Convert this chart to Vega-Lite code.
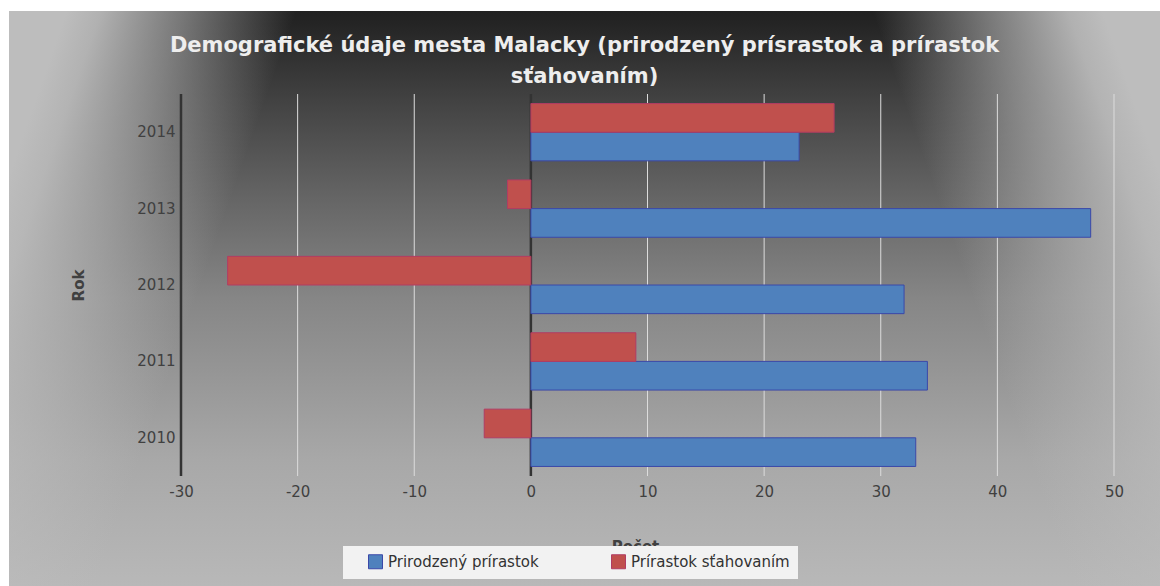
{
  "$schema": "https://vega.github.io/schema/vega-lite/v6.json",
  "width": 1151,
  "height": 575,
  "autosize": {"type": "none"},
  "padding": {"left": 9, "top": 11, "right": 0, "bottom": 0},
  "background": "#ffffff",
  "view": {
    "stroke": null,
    "fill": {
      "gradient": "linear",
      "x1": 0, "y1": 0, "x2": 0, "y2": 1,
      "stops": [
        {"offset": 0, "color": "#212121"},
        {"offset": 0.02, "color": "#242424"},
        {"offset": 0.155, "color": "#424242"},
        {"offset": 0.33, "color": "#666666"},
        {"offset": 0.5, "color": "#868686"},
        {"offset": 0.78, "color": "#a8a8a8"},
        {"offset": 1, "color": "#b8b8b8"}
      ]
    }
  },
  "title": {
    "text": ["Demografické údaje mesta Malacky (prirodzený prísrastok a prírastok", "sťahovaním)"],
    "anchor": "middle",
    "frame": "group",
    "orient": "top",
    "offset": -76,
    "font": "DejaVu Sans",
    "fontSize": 21,
    "fontWeight": "bold",
    "color": "#eeeeee",
    "lineHeight": 31
  },
  "resolve": {"scale": {"y": "independent"}, "axis": {"y": "independent"}},
  "layer": [
    {
      "data": {"values": [{"panel": "right"}]},
      "mark": {
        "type": "rect",
        "fill": {
          "gradient": "linear",
          "x1": 0.75, "y1": 0, "x2": 0.944, "y2": -0.034,
          "stops": [
            {"offset": 0, "color": "rgba(189,189,189,0)"},
            {"offset": 0.49, "color": "rgba(189,189,189,0.55)"},
            {"offset": 0.85, "color": "rgba(189,189,189,0.92)"},
            {"offset": 1, "color": "rgba(189,189,189,1)"}
          ]
        }
      },
      "encoding": {}
    },
    {
      "data": {"values": [{"panel": "left"}]},
      "mark": {
        "type": "rect",
        "fill": {
          "gradient": "linear",
          "x1": 0.25, "y1": 0, "x2": 0.056, "y2": -0.034,
          "stops": [
            {"offset": 0, "color": "rgba(189,189,189,0)"},
            {"offset": 0.49, "color": "rgba(189,189,189,0.55)"},
            {"offset": 0.85, "color": "rgba(189,189,189,0.92)"},
            {"offset": 1, "color": "rgba(189,189,189,1)"}
          ]
        }
      },
      "encoding": {}
    },
    {
      "data": {"values": [{"value": -20}, {"value": -10}, {"value": 10}, {"value": 20}, {"value": 30}, {"value": 40}, {"value": 50}]},
      "mark": {"type": "rule", "color": "#dcdcdc", "strokeWidth": 1},
      "encoding": {
        "x": {"field": "value", "type": "quantitative", "title": "Počet", "scale": {"domain": [-30, 50], "range": [172, 1105], "nice": false, "zero": false}},
        "y": {"datum": 0, "type": "quantitative", "scale": {"domain": [0, 1], "range": [83, 465]}, "axis": null},
        "y2": {"datum": 1}
      }
    },
    {
      "data": {"values": [{"value": -30}, {"value": 0}]},
      "mark": {"type": "rule", "color": "#333333", "strokeWidth": 2.5},
      "encoding": {
        "x": {"field": "value", "type": "quantitative", "title": "Počet", "scale": {"domain": [-30, 50], "range": [172, 1105], "nice": false, "zero": false}},
        "y": {"datum": 0, "type": "quantitative", "scale": {"domain": [0, 1], "range": [83, 465]}, "axis": null},
        "y2": {"datum": 1}
      }
    },
    {
      "data": {
        "values": [
          {"year": "2014", "series": "Prirodzený prírastok", "value": 23},
          {"year": "2014", "series": "Prírastok sťahovaním", "value": 26},
          {"year": "2013", "series": "Prirodzený prírastok", "value": 48},
          {"year": "2013", "series": "Prírastok sťahovaním", "value": -2},
          {"year": "2012", "series": "Prirodzený prírastok", "value": 32},
          {"year": "2012", "series": "Prírastok sťahovaním", "value": -26},
          {"year": "2011", "series": "Prirodzený prírastok", "value": 34},
          {"year": "2011", "series": "Prírastok sťahovaním", "value": 9},
          {"year": "2010", "series": "Prirodzený prírastok", "value": 33},
          {"year": "2010", "series": "Prírastok sťahovaním", "value": -4}
        ]
      },
      "mark": {"type": "bar", "strokeWidth": 1},
      "encoding": {
        "y": {
          "field": "year",
          "type": "ordinal",
          "sort": "descending",
          "title": "Rok",
          "scale": {"range": [83, 465], "paddingInner": 0.25, "paddingOuter": 0.125},
          "axis": {
            "offset": -172,
            "zindex": 1,
            "domain": false,
            "ticks": false,
            "labelPadding": 6,
            "labelFont": "DejaVu Sans",
            "labelFontSize": 15,
            "labelColor": "#404040",
            "titleFont": "DejaVu Sans",
            "titleFontSize": 15,
            "titleFontWeight": "bold",
            "titleColor": "#404040",
            "titlePadding": 50
          }
        },
        "yOffset": {
          "field": "series",
          "scale": {"domain": ["Prírastok sťahovaním", "Prirodzený prírastok"], "paddingInner": 0, "paddingOuter": 0}
        },
        "x": {
          "field": "value",
          "type": "quantitative",
          "title": "Počet",
          "scale": {"domain": [-30, 50], "range": [172, 1105], "nice": false, "zero": false},
          "axis": {
            "values": [-30, -20, -10, 0, 10, 20, 30, 40, 50],
            "offset": -110,
            "zindex": 1,
            "grid": false,
            "domain": false,
            "ticks": false,
            "labelFlush": false,
            "labelPadding": 8,
            "labelFont": "DejaVu Sans",
            "labelFontSize": 15,
            "labelColor": "#404040",
            "labelExpr": "datum.value + ''",
            "titleFont": "DejaVu Sans",
            "titleFontSize": 15,
            "titleFontWeight": "bold",
            "titleColor": "#404040",
            "titlePadding": 40,
            "titleX": 626
          }
        },
        "color": {
          "field": "series",
          "type": "nominal",
          "title": null,
          "scale": {"domain": ["Prirodzený prírastok", "Prírastok sťahovaním"], "range": ["#4F81BD", "#C0504D"]},
          "legend": {
            "orient": "none",
            "legendX": 334,
            "legendY": 535,
            "zindex": 3,
            "direction": "horizontal",
            "fillColor": "#f2f2f2",
            "padding": 8,
            "symbolType": "square",
            "symbolSize": 196,
            "symbolStrokeWidth": 1,
            "symbolOffset": 17,
            "labelFont": "DejaVu Sans",
            "labelFontSize": 15,
            "labelColor": "#333333",
            "labelOffset": 5,
            "columnPadding": 55,
            "encode": {"symbols": {"update": {"stroke": {"scale": "stroke", "field": "value"}}}}
          }
        },
        "stroke": {
          "field": "series",
          "type": "nominal",
          "scale": {"domain": ["Prirodzený prírastok", "Prírastok sťahovaním"], "range": ["#3b48a8", "#b13c63"]},
          "legend": null
        }
      }
    }
  ]
}
